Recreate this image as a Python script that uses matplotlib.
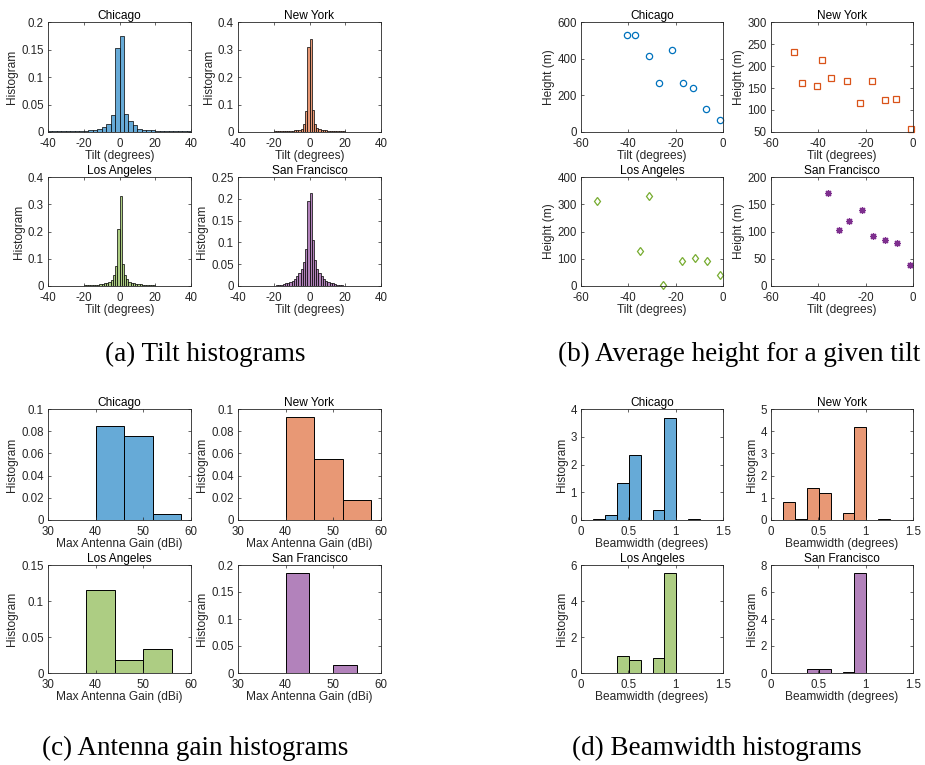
import numpy as np
import matplotlib
matplotlib.use('Agg')
import matplotlib.pyplot as plt

plt.rcParams['font.family'] = ['Liberation Sans', 'DejaVu Sans']
plt.rcParams['axes.unicode_minus'] = False

W, H = 925, 765
cities = ['Chicago', 'New York', 'Los Angeles', 'San Francisco']
fill_colors = ['#66aad7', '#e89875', '#adcd83', '#b282bb']
marker_colors = ['#0072BD', '#D95319', '#77AC30', '#7E2F8E']
AX_COL = '#262626'

# ---------------- (a) Tilt histograms (pdf) ----------------
tilt_start = -40.0
tilt_width = [2.5, 1.25, 1.25, 1.25]
tilt_chi = [0.001, 0.001, 0.001, 0.002, 0.001, 0.001, 0.001, 0.001,
            0.002, 0.003, 0.004, 0.005, 0.010, 0.014, 0.031, 0.153,
            0.174, 0.033, 0.020, 0.012, 0.006, 0.004, 0.004, 0.003,
            0.001, 0.001, 0.001, 0.001, 0.002, 0.001, 0.001, 0.001]
tilt_ny = [0.001, 0.001, 0.001, 0.001, 0.001, 0.001, 0.001, 0.001,
           0.001, 0.001, 0.001, 0.001, 0.001, 0.001, 0.001, 0.001,
           0.002, 0.002, 0.002, 0.002, 0.002, 0.002, 0.002, 0.003,
           0.005, 0.008, 0.006, 0.008, 0.012, 0.030, 0.075, 0.310,
           0.340, 0.080, 0.030, 0.015, 0.010, 0.008, 0.006, 0.009,
           0.005, 0.004, 0.002, 0.002, 0.002, 0.002, 0.002, 0.002,
           0.001, 0.001, 0.001, 0.001, 0.001, 0.001, 0.001, 0.001,
           0.001, 0.001, 0.001, 0.001, 0.001, 0.001, 0.001, 0.001]
tilt_la = [0.001, 0.001, 0.001, 0.001, 0.001, 0.001, 0.001, 0.001,
           0.001, 0.001, 0.001, 0.001, 0.001, 0.001, 0.001, 0.001,
           0.002, 0.002, 0.002, 0.002, 0.003, 0.004, 0.005, 0.006,
           0.008, 0.010, 0.012, 0.015, 0.022, 0.040, 0.075, 0.210,
           0.330, 0.080, 0.040, 0.025, 0.016, 0.012, 0.010, 0.008,
           0.007, 0.006, 0.005, 0.004, 0.003, 0.002, 0.002, 0.002,
           0.001, 0.001, 0.001, 0.001, 0.001, 0.001, 0.001, 0.001,
           0.001, 0.001, 0.001, 0.001, 0.001, 0.001, 0.001, 0.001]
tilt_sf = [0.001, 0.001, 0.001, 0.001, 0.001, 0.001, 0.001, 0.001,
           0.001, 0.001, 0.001, 0.001, 0.001, 0.001, 0.001, 0.001,
           0.001, 0.002, 0.002, 0.003, 0.004, 0.006, 0.008, 0.010,
           0.012, 0.016, 0.022, 0.030, 0.040, 0.055, 0.085, 0.195,
           0.213, 0.105, 0.060, 0.040, 0.030, 0.022, 0.016, 0.012,
           0.010, 0.008, 0.006, 0.005, 0.003, 0.002, 0.002, 0.001,
           0.001, 0.001, 0.001, 0.001, 0.001, 0.001, 0.001, 0.001,
           0.001, 0.001, 0.001, 0.001, 0.001, 0.001, 0.001, 0.001]
tilt_vals = [tilt_chi, tilt_ny, tilt_la, tilt_sf]
tilt_yticks = [[0, 0.05, 0.1, 0.15, 0.2], [0, 0.1, 0.2, 0.3, 0.4],
               [0, 0.1, 0.2, 0.3, 0.4], [0, 0.05, 0.1, 0.15, 0.2, 0.25]]
tilt_xticks = [-40, -20, 0, 20, 40]

# ---------------- (b) Average height for a given tilt ----------------
h_tilt_chi = [-40.6, -37.2, -31.3, -26.9, -21.4, -17.0, -12.5, -7.2, -1.3]
h_chi = [530, 530, 414, 265, 445, 270, 241, 124, 68]
h_tilt_ny = [-50.3, -46.9, -40.6, -38.5, -34.5, -27.9, -22.4, -17.2, -11.8, -7.0, -0.7]
h_ny = [231, 162, 154, 214, 173, 166, 116, 165, 123, 126, 56]
h_tilt_la = [-53.2, -35.2, -31.1, -25.5, -17.2, -11.8, -6.9, -1.1]
h_la = [311, 127, 329, 2, 93, 104, 91, 39]
h_tilt_sf = [-35.8, -31.3, -27.0, -21.7, -16.8, -11.8, -6.8, -1.1]
h_sf = [170, 103, 120, 140, 92, 84, 78, 38]
h_x = [h_tilt_chi, h_tilt_ny, h_tilt_la, h_tilt_sf]
h_y = [h_chi, h_ny, h_la, h_sf]
h_markers = ['o', 's', 'd', (8, 2, 0)]
h_ylims = [(0, 600), (50, 300), (0, 400), (0, 200)]
h_yticks = [[0, 200, 400, 600], [50, 100, 150, 200, 250, 300],
            [0, 100, 200, 300, 400], [0, 50, 100, 150, 200]]
h_xticks = [-60, -40, -20, 0]

# ---------------- (c) Antenna gain histograms ----------------
gain_start = [28, 28, 32, 30]
gain_width = [6, 6, 6, 5]
gain_chi = [0, 0, 0.0845, 0.0755, 0.0052]
gain_ny = [0, 0, 0.0928, 0.0551, 0.0176]
gain_la = [0, 0.115, 0.0185, 0.0337]
gain_sf = [0, 0, 0.1846, 0, 0.0148]
gain_vals = [gain_chi, gain_ny, gain_la, gain_sf]
gain_ylims = [0.1, 0.1, 0.15, 0.2]
gain_yticks = [[0, 0.02, 0.04, 0.06, 0.08, 0.1], [0, 0.02, 0.04, 0.06, 0.08, 0.1],
               [0, 0.05, 0.1, 0.15], [0, 0.05, 0.1, 0.15, 0.2]]
gain_xticks = [30, 40, 50, 60]

# ---------------- (d) Beamwidth histograms ----------------
bw_start = 0.0
bw_width = 0.126
bw_chi = [0, 0.03, 0.17, 1.33, 2.36, 0, 0.36, 3.67, 0, 0.02, 0, 0]
bw_ny = [0, 0.80, 0.03, 1.44, 1.21, 0, 0.30, 4.17, 0, 0.03, 0, 0]
bw_la = [0, 0, 0, 0.92, 0.74, 0, 0.83, 5.53, 0, 0.01, 0, 0]
bw_sf = [0, 0, 0, 0.32, 0.32, 0, 0.07, 7.39, 0, 0, 0, 0]
bw_vals = [bw_chi, bw_ny, bw_la, bw_sf]
bw_ylims = [4, 5, 6, 8]
bw_yticks = [[0, 1, 2, 3, 4], [0, 1, 2, 3, 4, 5], [0, 2, 4, 6], [0, 2, 4, 6, 8]]
bw_xticks = [0, 0.5, 1, 1.5]

fig = plt.figure(figsize=(W / 100, H / 100), dpi=100)

FS = 8.3


def make_ax(l, r, t, b):
    ax = fig.add_axes([l / W, 1 - b / H, (r - l) / W, (b - t) / H])
    for s in ax.spines.values():
        s.set_linewidth(0.6)
        s.set_color(AX_COL)
    ax.tick_params(direction='in', top=True, right=True, length=2.5, width=0.5,
                   colors=AX_COL, labelsize=FS)
    ax.tick_params(axis='x', pad=4.5)
    ax.tick_params(axis='y', pad=3)
    return ax


def style(ax, title, xlabel, ylabel):
    ax.set_title(title, fontsize=FS + 0.3, pad=2, color='black')
    ax.set_xlabel(xlabel, fontsize=FS + 0.3, labelpad=0, color=AX_COL)
    ax.set_ylabel(ylabel, fontsize=FS + 0.3, labelpad=2, color=AX_COL)


def fmt(v):
    return '%g' % v


cols_left = [(48, 191), (238, 381)]
cols_right = [(581, 723), (771, 913)]
rows_top = [(22, 132), (177, 286)]
rows_bot = [(409, 520), (565, 673)]

for i in range(4):
    r, c = divmod(i, 2)
    # (a)
    ax = make_ax(cols_left[c][0], cols_left[c][1], rows_top[r][0], rows_top[r][1])
    vals = tilt_vals[i]
    w = tilt_width[i]
    edges = tilt_start + w * np.arange(len(vals))
    ax.bar(edges, vals, width=w, align='edge', color=fill_colors[i],
           edgecolor='black', linewidth=0.5)
    ax.set_xlim(-40, 40)
    ax.set_ylim(0, tilt_yticks[i][-1])
    ax.set_xticks(tilt_xticks)
    ax.set_yticks(tilt_yticks[i])
    ax.set_yticklabels([fmt(v) for v in tilt_yticks[i]])
    style(ax, cities[i], 'Tilt (degrees)', 'Histogram')

    # (b)
    ax = make_ax(cols_right[c][0], cols_right[c][1], rows_top[r][0], rows_top[r][1])
    ax.plot(h_x[i], h_y[i], linestyle='none', marker=h_markers[i],
            mfc='none', mec=marker_colors[i], ms=4.5 if i < 3 else 5.0, mew=0.9,
            clip_on=False)
    ax.set_xlim(-60, 0)
    ax.set_ylim(*h_ylims[i])
    ax.set_xticks(h_xticks)
    ax.set_yticks(h_yticks[i])
    style(ax, cities[i], 'Tilt (degrees)', 'Height (m)')

    # (c)
    ax = make_ax(cols_left[c][0], cols_left[c][1], rows_bot[r][0], rows_bot[r][1])
    vals = gain_vals[i]
    w = gain_width[i]
    edges = gain_start[i] + w * np.arange(len(vals))
    ax.bar(edges, vals, width=w, align='edge', color=fill_colors[i],
           edgecolor='black', linewidth=0.7)
    ax.set_xlim(30, 60)
    ax.set_ylim(0, gain_ylims[i])
    ax.set_xticks(gain_xticks)
    ax.set_yticks(gain_yticks[i])
    ax.set_yticklabels([fmt(v) for v in gain_yticks[i]])
    style(ax, cities[i], 'Max Antenna Gain (dBi)', 'Histogram')

    # (d)
    ax = make_ax(cols_right[c][0], cols_right[c][1], rows_bot[r][0], rows_bot[r][1])
    vals = bw_vals[i]
    edges = bw_start + bw_width * np.arange(len(vals))
    ax.bar(edges, vals, width=bw_width, align='edge', color=fill_colors[i],
           edgecolor='black', linewidth=0.7)
    ax.set_xlim(0, 1.5)
    ax.set_ylim(0, bw_ylims[i])
    ax.set_xticks(bw_xticks)
    ax.set_xticklabels([fmt(v) for v in bw_xticks])
    ax.set_yticks(bw_yticks[i])
    style(ax, cities[i], 'Beamwidth (degrees)', 'Histogram')

captions = [('(a) Tilt histograms', 205, 354),
            ('(b) Average height for a given tilt', 739, 354),
            ('(c) Antenna gain histograms', 195, 748),
            ('(d) Beamwidth histograms', 717, 748)]
for txt, x, y in captions:
    fig.text(x / W, 1 - y / H, txt, ha='center', va='center', fontsize=19.5,
             family=['Liberation Serif', 'DejaVu Serif'])

fig.savefig('out.png', dpi=100, facecolor='white')
